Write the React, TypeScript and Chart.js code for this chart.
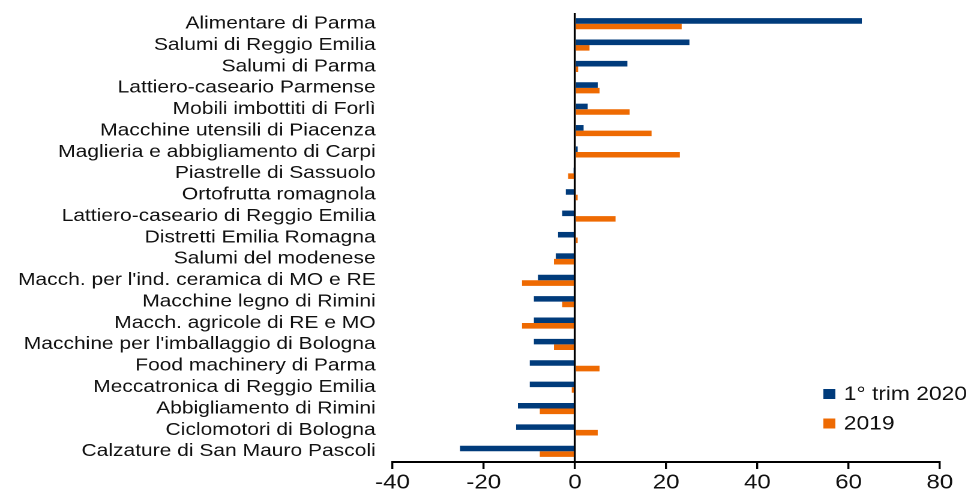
import React, { useEffect, useRef } from 'react';
import { Chart, registerables } from 'chart.js';

Chart.register(...registerables);

const categories = [
  'Alimentare di Parma',
  'Salumi di Reggio Emilia',
  'Salumi di Parma',
  'Lattiero-caseario Parmense',
  'Mobili imbottiti di Forlì',
  'Macchine utensili di Piacenza',
  'Maglieria e abbigliamento di Carpi',
  'Piastrelle di Sassuolo',
  'Ortofrutta romagnola',
  'Lattiero-caseario di Reggio Emilia',
  'Distretti Emilia Romagna',
  'Salumi del modenese',
  "Macch. per l'ind. ceramica di MO e RE",
  'Macchine legno di Rimini',
  'Macch. agricole di RE e MO',
  "Macchine per l'imballaggio di Bologna",
  'Food machinery di Parma',
  'Meccatronica di Reggio Emilia',
  'Abbigliamento di Rimini',
  'Ciclomotori di Bologna',
  'Calzature di San Mauro Pascoli',
];

const trim2020 = [
  62.9, 25.1, 11.5, 5.0, 2.8, 1.9, 0.6, -0.3, -2.0, -2.8, -3.7, -4.2, -8.1, -9.0, -9.0, -9.0, -9.9, -9.9,
  -12.5, -12.9, -25.2,
];

const year2019 = [
  23.4, 3.2, 0.7, 5.4, 12.0, 16.8, 23.0, -1.5, 0.6, 8.9, 0.6, -4.6, -11.6, -2.8, -11.6, -4.6, 5.4, -0.7,
  -7.7, 5.0, -7.7,
];

const seriesLabels = ['1° trim 2020', '2019'];
const seriesColors = ['#003B7B', '#EE6A02'];
const xMin = -40;
const xMax = 80;
const xStep = 20;

const W = 971;
const H = 495;
const STRETCH = 1.2;
const LW = Math.round(W / STRETCH);
const FONT = '"Liberation Sans", Arial, Helvetica, sans-serif';

export default function App() {
  const ref = useRef<HTMLCanvasElement>(null);

  useEffect(() => {
    if (!ref.current) return;

    const cornerLegend = {
      id: 'cornerLegend',
      afterDraw(chart: any) {
        const ctx = chart.ctx;
        const area = chart.chartArea;
        ctx.save();
        ctx.font = `19px ${FONT}`;
        ctx.textBaseline = 'middle';
        ctx.textAlign = 'left';
        chart.data.datasets.forEach((ds: any, i: number) => {
          const cy = area.bottom - 68 + i * 29.5;
          const bx = area.right - 97;
          ctx.fillStyle = ds.backgroundColor;
          ctx.fillRect(bx, cy - 5, 10, 10);
          ctx.fillStyle = '#111';
          ctx.fillText(ds.label, bx + 17, cy + 1);
        });
        ctx.restore();
      },
    };

    const chart = new Chart(ref.current, {
      type: 'bar',
      data: {
        labels: categories,
        datasets: [
          {
            label: seriesLabels[0],
            data: trim2020,
            backgroundColor: seriesColors[0],
            borderWidth: 0,
            categoryPercentage: 0.52,
            barPercentage: 1,
          },
          {
            label: seriesLabels[1],
            data: year2019,
            backgroundColor: seriesColors[1],
            borderWidth: 0,
            categoryPercentage: 0.52,
            barPercentage: 1,
          },
        ],
      },
      options: {
        indexAxis: 'y',
        responsive: false,
        maintainAspectRatio: false,
        animation: false,
        devicePixelRatio: 2,
        layout: { padding: { left: 0, right: 26, top: 13, bottom: -2 } },
        plugins: {
          legend: { display: false },
          tooltip: { enabled: false },
        },
        scales: {
          x: {
            type: 'linear',
            min: xMin,
            max: xMax,
            ticks: {
              stepSize: xStep,
              autoSkip: false,
              maxRotation: 0,
              padding: 2,
              color: '#111',
              font: { family: FONT, size: 20 },
            },
            grid: {
              display: true,
              drawOnChartArea: true,
              drawTicks: true,
              tickLength: 7,
              color: (c: any) => (c.tick && c.tick.value === 0 ? '#000' : 'rgba(0,0,0,0)'),
              lineWidth: 1.7,
              tickColor: '#000',
              tickWidth: 1.7,
            },
            border: { display: true, color: '#000', width: 2 },
          },
          y: {
            type: 'category',
            afterFit: (scale: any) => {
              scale.width = 327;
              scale.paddingTop = 0;
              scale.paddingBottom = 0;
            },
            ticks: {
              autoSkip: false,
              padding: 14,
              color: '#111',
              font: { family: FONT, size: 17.5 },
            },
            grid: { display: false, drawTicks: false },
            border: { display: false },
          },
        },
      },
      plugins: [cornerLegend],
    } as any);

    return () => chart.destroy();
  }, []);

  return (
    <div style={{ position: 'absolute', left: 0, top: 0, width: W, height: H, overflow: 'hidden', background: '#fff' }}>
      <canvas
        ref={ref}
        width={LW}
        height={H}
        style={{ width: `${W}px`, height: `${H}px`, display: 'block' }}
      />
    </div>
  );
}
